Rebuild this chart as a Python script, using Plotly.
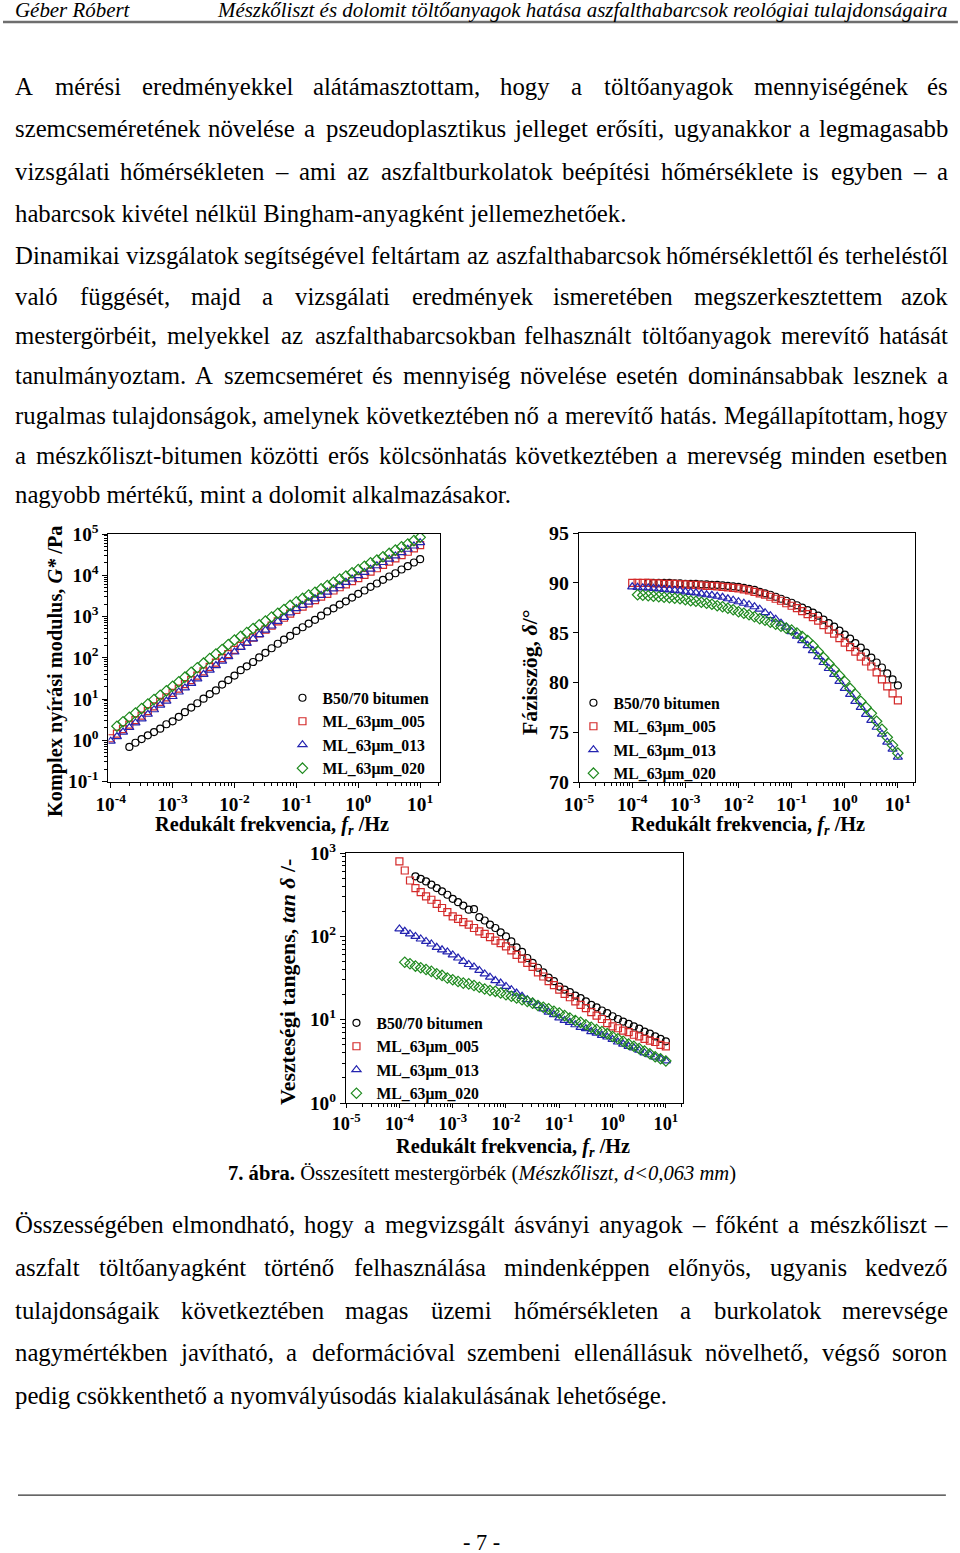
import unicodedata
import plotly.graph_objects as go

# ---------------- data ----------------
FREQ_GRID = [1.00e-4, 1.26e-4, 1.58e-4, 2.00e-4, 2.51e-4, 3.16e-4, 3.98e-4, 5.01e-4, 6.31e-4, 7.94e-4,
             1.00e-3, 1.26e-3, 1.58e-3, 2.00e-3, 2.51e-3, 3.16e-3, 3.98e-3, 5.01e-3, 6.31e-3, 7.94e-3,
             1.00e-2, 1.26e-2, 1.58e-2, 2.00e-2, 2.51e-2, 3.16e-2, 3.98e-2, 5.01e-2, 6.31e-2, 7.94e-2,
             1.00e-1, 1.26e-1, 1.58e-1, 2.00e-1, 2.51e-1, 3.16e-1, 3.98e-1, 5.01e-1, 6.31e-1, 7.94e-1,
             1.00, 1.26, 1.58, 2.00, 2.51, 3.16, 3.98, 5.01, 6.31, 7.94, 10.0]
FREQ_B50 = FREQ_GRID[3:]
FREQ_005 = FREQ_GRID
FREQ_013 = FREQ_GRID
FREQ_020 = FREQ_GRID[1:]

GSTAR_B50 = [0.69, 0.87, 1.07, 1.32, 1.58, 1.91, 2.45, 2.88, 3.7, 4.8,
             6.2, 7.9, 10.2, 13.2, 16.2, 22.4, 28.8, 37.0, 50.0, 62.0,
             79.0, 102, 132, 170, 219, 275, 340, 447, 550, 676,
             832, 1050, 1330, 1580, 1950, 2340, 2880, 3550, 4270, 5250,
             6310, 7760, 9330, 11200, 13800, 16600, 20400, 24500]
GSTAR_005 = [1.12, 1.45, 1.86, 2.40, 3.09, 3.98, 5.1, 6.6, 8.5, 11.0,
             14.1, 17.8, 22.9, 28.8, 37.0, 47.0, 60.0, 76.0, 98.0, 123,
             155, 195, 245, 309, 389, 479, 603, 759, 933, 1175,
             1445, 1740, 2090, 2510, 3020, 3550, 4270, 5130, 6030, 7240,
             8510, 10200, 12300, 14800, 17800, 21400, 25700, 30900, 37200, 44700,
             53700]
GSTAR_013 = [0.95, 1.23, 1.58, 2.04, 2.63, 3.31, 4.27, 5.50, 7.08, 8.91,
             11.5, 14.8, 18.6, 24.0, 30.9, 39.8, 50.1, 64.6, 83.2, 107,
             138, 178, 224, 288, 363, 468, 589, 759, 955, 1230,
             1550, 1860, 2240, 2690, 3240, 3890, 4680, 5620, 6760, 8130,
             9770, 11700, 14100, 17000, 20400, 24500, 29500, 35500, 42700, 51300,
             61700]
GSTAR_020 = [2.19, 2.82, 3.63, 4.57, 5.89, 7.59, 9.77, 12.3, 15.8, 20.4,
             26.3, 33.9, 44.7, 57.5, 74.1, 95.5, 123, 158, 209, 269,
             331, 407, 513, 631, 776, 977, 1200, 1480, 1860, 2290,
             2750, 3310, 3890, 4680, 5620, 6760, 8130, 9550, 11500, 13800,
             16600, 20000, 23400, 28200, 33900, 40700, 49000, 57500, 69200, 83200]

DELTA_B50 = [90.0, 90.0, 90.0, 90.0, 90.0, 89.95, 89.95, 89.9, 89.9, 89.9,
             89.85, 89.85, 89.8, 89.8, 89.75, 89.7, 89.65, 89.6, 89.5, 89.4,
             89.3, 89.1, 88.95, 88.8, 88.6, 88.4, 88.2, 88.0, 87.75, 87.5,
             87.25, 87.0, 86.7, 86.3, 85.95, 85.6, 85.2, 84.8, 84.4, 83.95,
             83.5, 83.0, 82.5, 82.0, 81.5, 80.9, 80.3, 79.7]
DELTA_005 = [90.0, 90.0, 90.0, 90.0, 89.95, 89.95, 89.9, 89.9, 89.9, 89.85,
             89.85, 89.8, 89.8, 89.75, 89.7, 89.7, 89.65, 89.6, 89.55, 89.5,
             89.45, 89.35, 89.25, 89.1, 88.95, 88.8, 88.6, 88.4, 88.2, 87.95,
             87.7, 87.45, 87.15, 86.85, 86.55, 86.2, 85.75, 85.3, 84.9, 84.45,
             84.0, 83.55, 83.1, 82.6, 82.1, 81.6, 81.0, 80.3, 79.6, 78.9,
             78.2]
DELTA_013 = [89.6, 89.55, 89.5, 89.5, 89.45, 89.4, 89.35, 89.3, 89.25, 89.2,
             89.1, 89.05, 89.0, 88.9, 88.8, 88.75, 88.65, 88.55, 88.4, 88.25,
             88.1, 87.95, 87.8, 87.6, 87.35, 87.0, 86.7, 86.35, 85.95, 85.55,
             85.1, 84.65, 84.2, 83.7, 83.2, 82.6, 82.0, 81.4, 80.8, 80.1,
             79.4, 78.8, 78.1, 77.5, 76.8, 76.2, 75.5, 74.8, 74.0, 73.3,
             72.5]
DELTA_020 = [88.8, 88.75, 88.7, 88.65, 88.6, 88.55, 88.5, 88.45, 88.4, 88.3,
             88.2, 88.15, 88.05, 87.95, 87.85, 87.7, 87.6, 87.45, 87.3, 87.1,
             86.95, 86.8, 86.6, 86.4, 86.25, 86.05, 85.85, 85.65, 85.45, 85.25,
             84.95, 84.6, 84.2, 83.7, 83.1, 82.5, 81.9, 81.3, 80.7, 80.1,
             79.4, 78.8, 78.1, 77.5, 76.9, 76.1, 75.3, 74.5, 73.7, 72.9]

TAN_B50 = [525, 490, 457, 417, 380, 347, 316, 282, 257, 234,
           209, 212, 170, 155, 138, 126, 112, 100, 87, 74,
           65, 55, 48, 42, 37, 32, 29, 25, 23, 21.4,
           19.5, 18.2, 16.6, 15.1, 14.1, 12.9, 12.0, 11.0, 10.2, 9.5,
           8.9, 8.3, 7.8, 7.2, 6.8, 6.3, 5.9, 5.5]
TAN_005 = [794, 617, 468, 380, 339, 302, 275, 245, 219, 195,
           174, 162, 148, 138, 126, 115, 107, 98, 89, 83,
           76, 68, 60, 54, 48, 43, 37, 33, 29, 26,
           23, 20.4, 18.6, 16.6, 15.1, 13.8, 12.3, 11.2, 10.2, 9.1,
           8.3, 7.9, 7.4, 7.1, 6.6, 6.3, 5.9, 5.6, 5.4, 5.0,
           4.8]
TAN_013 = [123, 115, 107, 100, 93, 87, 81, 74, 69, 65,
           60, 55, 50, 46, 43, 39, 35.5, 32.4, 29.5, 27.5,
           25.1, 22.9, 20.9, 19.1, 17.4, 16.2, 14.8, 13.5, 12.3, 11.5,
           10.5, 9.8, 9.3, 8.7, 8.1, 7.8, 7.2, 6.9, 6.5, 6.2,
           5.8, 5.4, 5.1, 4.8, 4.6, 4.3, 4.0, 3.8, 3.55, 3.4,
           3.2]
TAN_020 = [49, 47, 44, 42, 40, 38, 35.5, 34, 31.6, 30.2,
           28.8, 27.5, 26.9, 25.7, 24.5, 23.4, 22.4, 21.9, 20.9, 20.0,
           19.1, 18.2, 17.4, 16.6, 15.8, 14.8, 14.1, 13.5, 12.6, 12.0,
           11.2, 10.5, 9.8, 9.3, 8.7, 8.1, 7.6, 7.2, 6.8, 6.3,
           5.9, 5.5, 5.1, 4.8, 4.5, 4.2, 3.9, 3.6, 3.4, 3.2]

SERIES_NAMES = ["B50/70 bitumen", "ML_63μm_005", "ML_63μm_013", "ML_63μm_020"]
SERIES_FREQ = [FREQ_B50, FREQ_005, FREQ_013, FREQ_020]
SERIES_GSTAR = [GSTAR_B50, GSTAR_005, GSTAR_013, GSTAR_020]
SERIES_DELTA = [DELTA_B50, DELTA_005, DELTA_013, DELTA_020]
SERIES_TAN = [TAN_B50, TAN_005, TAN_013, TAN_020]
COLORS = ["#000000", "#d42a2a", "#2424b0", "#1f8a1f"]
SYMBOLS = ["circle-open", "square-open", "triangle-up-open", "diamond-open"]
SIZES = [7, 7, 8, 8]

TICKS_G = [0.1, 1, 10, 100, 1e3, 1e4, 1e5]
TICKTEXT_G = ["10<sup>-1</sup>", "10<sup>0</sup>", "10<sup>1</sup>", "10<sup>2</sup>",
              "10<sup>3</sup>", "10<sup>4</sup>", "10<sup>5</sup>"]
TICKS_F1 = [1e-4, 1e-3, 1e-2, 1e-1, 1, 10]
TICKTEXT_F1 = ["10<sup>-4</sup>", "10<sup>-3</sup>", "10<sup>-2</sup>", "10<sup>-1</sup>",
               "10<sup>0</sup>", "10<sup>1</sup>"]
TICKS_F2 = [1e-5, 1e-4, 1e-3, 1e-2, 1e-1, 1, 10]
TICKTEXT_F2 = ["10<sup>-5</sup>"] + TICKTEXT_F1
TICKS_D = [70, 75, 80, 85, 90, 95]
TICKS_T = [1, 10, 100, 1000]
TICKTEXT_T = ["10<sup>0</sup>", "10<sup>1</sup>", "10<sup>2</sup>", "10<sup>3</sup>"]

HEADER_LEFT = "Géber Róbert"
HEADER_RIGHT = "Mészkőliszt és dolomit töltőanyagok hatása aszfalthabarcsok reológiai tulajdonságaira"

PARA1 = ["A mérési eredményekkel alátámasztottam, hogy a töltőanyagok mennyiségének és",
         "szemcseméretének növelése a pszeudoplasztikus jelleget erősíti, ugyanakkor a legmagasabb",
         "vizsgálati hőmérsékleten – ami az aszfaltburkolatok beépítési hőmérséklete is egyben – a",
         "habarcsok kivétel nélkül Bingham-anyagként jellemezhetőek."]
PARA2 = ["Dinamikai vizsgálatok segítségével feltártam az aszfalthabarcsok hőmérséklettől és terheléstől",
         "való függését, majd a vizsgálati eredmények ismeretében megszerkesztettem azok",
         "mestergörbéit, melyekkel az aszfalthabarcsokban felhasznált töltőanyagok merevítő hatását",
         "tanulmányoztam. A szemcseméret és mennyiség növelése esetén dominánsabbak lesznek a",
         "rugalmas tulajdonságok, amelynek következtében nő a merevítő hatás. Megállapítottam, hogy",
         "a mészkőliszt-bitumen közötti erős kölcsönhatás következtében a merevség minden esetben",
         "nagyobb mértékű, mint a dolomit alkalmazásakor."]
PARA3 = ["Összességében elmondható, hogy a megvizsgált ásványi anyagok – főként a mészkőliszt –",
         "aszfalt töltőanyagként történő felhasználása mindenképpen előnyös, ugyanis kedvező",
         "tulajdonságaik következtében magas üzemi hőmérsékleten a burkolatok merevsége",
         "nagymértékben javítható, a deformációval szembeni ellenállásuk növelhető, végső soron",
         "pedig csökkenthető a nyomvályúsodás kialakulásának lehetősége."]
CAPTION = "<b>7. ábra.</b> Összesített mestergörbék (<i>Mészkőliszt, d&lt;0,063 mm</i>)"
PAGE_NO = "- 7 -"

# ---------------- layout helpers ----------------
# All positions below are given in page pixels of the target picture; the viewer
# shows the page shifted by (OX, OY) and scaled by SC, which is undone here.
W_PAGE, H_PAGE = 960, 1553
OX, OY, SC = 15.0, 13.0, 0.9845
SERIF = "Liberation Serif"


def px(x):
    return ((x - OX) / SC) / W_PAGE


def py(y):
    return 1 - ((y - OY) / SC) / H_PAGE


def fs(size):
    return size / SC


TIMES_W = {' ': 250, ',': 250, '.': 250, '-': 333, '–': 500, '(': 333, ')': 333, ':': 278,
           'a': 444, 'b': 500, 'c': 444, 'd': 500, 'e': 444, 'f': 333, 'g': 500, 'h': 500,
           'i': 278, 'j': 278, 'k': 500, 'l': 278, 'm': 778, 'n': 500, 'o': 500, 'p': 500,
           'q': 500, 'r': 333, 's': 389, 't': 278, 'u': 500, 'v': 500, 'w': 722, 'x': 500,
           'y': 500, 'z': 444, 'A': 722, 'B': 667, 'C': 667, 'D': 722, 'E': 611, 'F': 556,
           'G': 722, 'H': 722, 'I': 333, 'J': 389, 'K': 722, 'L': 611, 'M': 889, 'N': 722,
           'O': 722, 'P': 556, 'Q': 722, 'R': 667, 'S': 556, 'T': 611, 'U': 722, 'V': 722,
           'W': 944, 'X': 722, 'Y': 722, 'Z': 611}


def text_w(s, size):
    tot = 0
    for ch in s:
        b = unicodedata.normalize('NFD', ch)[0]
        tot += TIMES_W.get(b, 500)
    return tot * size / 1000.0


annotations = []
BODY_SIZE = 24.4
LEFT, RIGHT = 15, 948


def add_text(text, x, y, size, xanchor='left', italic=False, bold=False, angle=0):
    annotations.append(dict(text=text, x=px(x), y=py(y), xref='paper', yref='paper',
                            xanchor=xanchor, yanchor='middle', showarrow=False,
                            borderpad=0, borderwidth=0, textangle=angle,
                            font=dict(family=SERIF, size=fs(size), color='black',
                                      style='italic' if italic else 'normal',
                                      weight='bold' if bold else 'normal')))


def add_para(lines, ys):
    for i, (line, y) in enumerate(zip(lines, ys)):
        if i == len(lines) - 1:
            add_text(line, LEFT, y, BODY_SIZE)
            continue
        words = line.split(' ')
        widths = [text_w(w, BODY_SIZE) for w in words]
        gap = (RIGHT - LEFT - sum(widths)) / (len(words) - 1)
        x = LEFT
        for j, (w, wd) in enumerate(zip(words, widths)):
            if j == len(words) - 1:
                add_text(w, RIGHT, y, BODY_SIZE, xanchor='right')
            else:
                add_text(w, x, y, BODY_SIZE)
            x += wd + gap


add_text(HEADER_LEFT, 15, 10, 20.6, italic=True)
add_text(HEADER_RIGHT, 948, 10, 20.6, xanchor='right', italic=True)
add_para(PARA1, [86, 128, 171, 213])
add_para(PARA2, [255, 296, 335, 375, 415, 455, 494])
add_para(PARA3, [1224, 1267, 1310, 1352, 1395])
add_text(CAPTION, 482, 1173, 20.3, xanchor='center')
add_text(PAGE_NO, 482, 1542, 22, xanchor='center')

# axis titles
add_text("Komplex nyírási modulus, <i>G*</i> /Pa", 55, 671, 20, xanchor='center', bold=True, angle=-90)
add_text("Redukált frekvencia, <i>f<sub>r</sub></i> /Hz", 272, 825, 20, xanchor='center', bold=True)
add_text("Fázisszög, <i>δ</i>/°", 530, 672, 21.5, xanchor='center', bold=True, angle=-90)
add_text("Redukált frekvencia, <i>f<sub>r</sub></i> /Hz", 748, 825, 20, xanchor='center', bold=True)
add_text("Veszteségi tangens, <i>tan δ</i> /-", 288, 982, 21.5, xanchor='center', bold=True, angle=-90)
add_text("Redukált frekvencia, <i>f<sub>r</sub></i> /Hz", 513, 1147, 20, xanchor='center', bold=True)

# ---------------- figure ----------------
fig = go.Figure()
panels = [("x", "y", "legend", SERIES_GSTAR), ("x2", "y2", "legend2", SERIES_DELTA),
          ("x3", "y3", "legend3", SERIES_TAN)]
for xa, ya, lg, vals in panels:
    for name, fr, v, c, s, sz in zip(SERIES_NAMES, SERIES_FREQ, vals, COLORS, SYMBOLS, SIZES):
        fig.add_trace(go.Scatter(x=fr, y=v, mode='markers', name=name, xaxis=xa, yaxis=ya,
                                 legend=lg,
                                 marker=dict(symbol=s, size=sz, color=c,
                                             line=dict(width=1.2, color=c))))

MINOR_LOG = [m * 10.0 ** e for e in range(-5, 5) for m in range(2, 10)]


def log_axis(domain, rng, tv, tt, anchor, size=19, ticklen=5):
    return dict(type='log', domain=domain, range=rng, tickmode='array', tickvals=tv, ticktext=tt,
                showline=True, linecolor='black', linewidth=1.2, mirror=True, showgrid=False,
                zeroline=False, ticks='outside', ticklen=ticklen, tickwidth=1.2, tickcolor='black',
                tickfont=dict(family=SERIF, size=fs(size), color='black', weight='bold'),
                anchor=anchor,
                minor=dict(tickmode='array', tickvals=MINOR_LOG, ticks='outside', ticklen=3,
                           tickwidth=1, tickcolor='black', showgrid=False))


legend_common = dict(xanchor='left', yanchor='top', bgcolor='rgba(0,0,0,0)', borderwidth=0,
                     font=dict(family=SERIF, size=fs(15.5), color='black', weight='bold'),
                     tracegroupgap=0)

fig.update_layout(
    width=W_PAGE, height=H_PAGE, autosize=False,
    margin=dict(l=0, r=0, t=0, b=0),
    paper_bgcolor='white', plot_bgcolor='white',
    xaxis=log_axis([px(108.5), px(440)], [-4.036, 1.32], TICKS_F1, TICKTEXT_F1, 'y'),
    yaxis=log_axis([py(781.5), py(534)], [-1, 5], TICKS_G, TICKTEXT_G, 'x'),
    xaxis2=log_axis([px(579), px(915)], [-5.003, 1.32], TICKS_F2, TICKTEXT_F2, 'y2'),
    yaxis2=dict(domain=[py(782), py(533)], range=[70, 95], tickvals=TICKS_D, showline=True,
                linecolor='black', linewidth=1.2, mirror=True, showgrid=False, zeroline=False,
                ticks='outside', ticklen=5, tickwidth=1.2, tickcolor='black',
                tickfont=dict(family=SERIF, size=fs(19.5), color='black', weight='bold'),
                anchor='x2'),
    xaxis3=log_axis([px(346), px(683)], [-5.003, 1.32], TICKS_F2, TICKTEXT_F2, 'y3',
                    size=18, ticklen=4),
    yaxis3=log_axis([py(1103), py(853)], [0, 3.0], TICKS_T, TICKTEXT_T, 'x3'),
    legend=dict(x=px(282.5), y=py(681), **legend_common),
    legend2=dict(x=px(573.5), y=py(686), **legend_common),
    legend3=dict(x=px(336.5), y=py(1006), **legend_common),
    annotations=annotations,
    shapes=[
        dict(type='line', xref='paper', yref='paper', x0=px(3), x1=px(958), y0=py(22), y1=py(22),
             line=dict(color='#6e6e6e', width=2.5)),
        dict(type='line', xref='paper', yref='paper', x0=px(18), x1=px(946), y0=py(1495), y1=py(1495),
             line=dict(color='#333333', width=1.2)),
    ],
)

RESET_JS = (
    "(function(){"
    "var els=[document.documentElement, document.body];"
    "var d=document.querySelector('.plotly-graph-div');"
    "while(d && d!==document.body){els.push(d); d=d.parentElement;}"
    "els.forEach(function(e){e.style.margin='0px'; e.style.padding='0px'; e.style.border='0px';"
    "e.style.overflow='visible';});"
    "document.querySelectorAll('svg.main-svg').forEach(function(s){s.style.overflow='visible';});"
    "})();"
)

fig.write_html("out.html", config={'displayModeBar': False}, post_script=RESET_JS)
